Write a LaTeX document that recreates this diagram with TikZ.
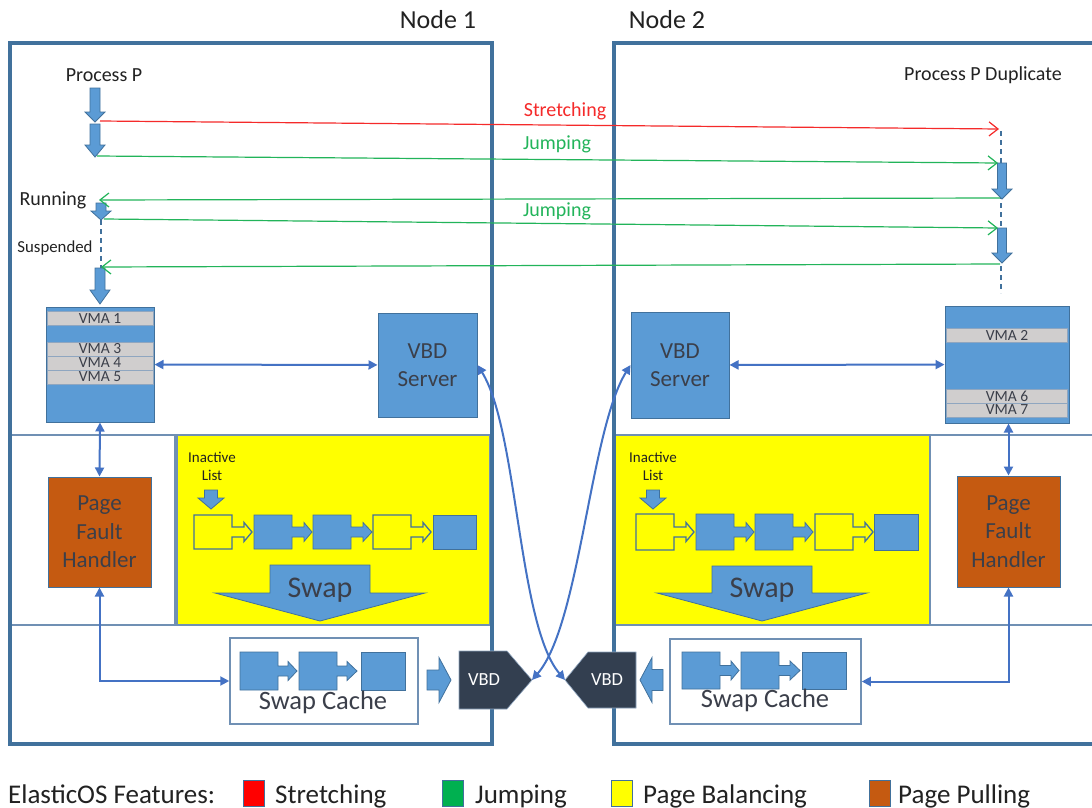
\documentclass[tikz,border=0pt]{standalone}
\usepackage{fontspec}
\setmainfont{Carlito}
\usetikzlibrary{arrows.meta}
\definecolor{framec}{HTML}{41719C}
\definecolor{thinc}{HTML}{7090B4}
\definecolor{bfill}{HTML}{5B9BD5}
\definecolor{bline}{HTML}{41719C}
\definecolor{connc}{HTML}{4472C4}
\definecolor{vbdc}{HTML}{333F50}
\definecolor{pfhc}{HTML}{C55A11}
\definecolor{vmag}{HTML}{D0CECE}
\definecolor{vmaline}{HTML}{8FA6C0}
\definecolor{txtc}{HTML}{3B3F4A}
\definecolor{blk1}{HTML}{222222}
\definecolor{redc}{HTML}{F52A2A}
\definecolor{grnc}{HTML}{22B45A}
\definecolor{lgrn}{HTML}{00B050}
\definecolor{ylw}{HTML}{FFFF00}
\newcommand\fs[2]{\fontsize{#1}{#2}\selectfont}
% vertical block arrow: cx, ytail, ybase, ytip, bodyhalf, headhalf
\newcommand\blkv[6]{%
  \filldraw[blk] (#1-#5,#2) -- (#1+#5,#2) -- (#1+#5,#3) -- (#1+#6,#3) -- (#1,#4) -- (#1-#6,#3) -- (#1-#5,#3) -- cycle;}
% horizontal block arrow: xtail, xbase, xtip, cy, bodyhalf, headhalf
\newcommand\blkh[6]{%
  \filldraw[blk] (#1,#4-#5) -- (#2,#4-#5) -- (#2,#4-#6) -- (#3,#4) -- (#2,#4+#6) -- (#2,#4+#5) -- (#1,#4+#5) -- cycle;}
% block with arrow: [style] x0, x1, xbase, xtip, top, bot, cy
\newcommand\chainb[8][blk]{%
  \filldraw[#1] (#2,#6) -- (#3,#6) -- (#3,#8-5) -- (#4,#8-5) -- (#4,#8-9.5) -- (#5,#8) -- (#4,#8+9.5) -- (#4,#8+5) -- (#3,#8+5) -- (#3,#7) -- (#2,#7) -- cycle;}
\tikzset{
  blk/.style={fill=bfill, draw=bline, line width=0.8pt},
  blko/.style={fill=ylw, draw=bline, line width=1.3pt},
  blkn/.style={fill=bfill, draw=bline, line width=1pt, inner sep=0},
  vmabar/.style={fill=vmag, draw=vmaline, line width=0.8pt, inner sep=0, minimum height=14, font=\fs{15.5}{15.5}, text=txtc},
  pfhn/.style={fill=pfhc, draw=bline, line width=1pt, inner sep=0, font=\fs{23}{28.5}, text=txtc, align=center},
  thinbox/.style={draw=thinc, line width=1.5pt},
  framebox/.style={draw=framec, line width=3.8pt},
  whitebox/.style={fill=white, draw=thinc, line width=1.5pt, inner sep=0},
  conn/.style={draw=connc, line width=2pt, >={Triangle[length=9pt,width=9pt]}, <->},
  redline/.style={draw=redc, line width=1.2pt, -{Straight Barb[length=9pt,width=14pt]}},
  grnline/.style={draw=grnc, line width=1.2pt, -{Straight Barb[length=9pt,width=14pt]}},
  dashline/.style={draw=framec, line width=1.3pt, dash pattern=on 5pt off 4pt},
  vbdshape/.style={fill=vbdc, draw=vmaline, line width=0.6pt},
  lbl/.style={inner sep=0, text=blk1},
  legsq/.style={draw=bline, line width=1pt, minimum width=21, minimum height=26, inner sep=0},
  legtxt/.style={anchor=base west, inner sep=0, font=\fs{27}{30}, text=blk1},
}
\begin{document}
\begin{tikzpicture}[x=1pt,y=-1pt]
\clip (0,0) rectangle (1092,808);
\fill[white] (0,0) rectangle (1092,808);

% inner region boxes
\draw[thinbox] (10,435) rectangle (175,625);
\filldraw[thinbox, fill=ylw] (177,435) rectangle (490,625);
\filldraw[thinbox, fill=ylw] (615,435) rectangle (930,625);
\draw[thinbox] (930,435) rectangle (1100,625);

% node frames
\draw[framebox] (10,43) rectangle (492,744);
\draw[framebox] (614,43) rectangle (1110,744);
\node[lbl, font=\fs{26}{30}] (n1lbl) at (438,20) {Node 1};
\node[lbl, font=\fs{26}{30}] (n2lbl) at (667,20) {Node 2};

% process texts
\node[lbl, font=\fs{20}{24}] (procP) at (104,75) {Process P};
\node[lbl, font=\fs{20}{24}] (procD) at (983,75) {Process P Duplicate};
\node[lbl, font=\fs{20}{24}] (run) at (53,200) {Running};
\node[lbl, font=\fs{16.8}{20}] (susp) at (55,248) {Suspended};

% dashed timelines
\draw[dashline] (101,220) -- (101,268);
\draw[dashline] (1001,131) -- (1001,293);

% process block arrows
\blkv{95}{88}{112}{122}{5}{10}
\blkv{95}{124}{145}{157}{5}{10}
\blkv{101}{203}{211}{220}{5}{10}
\blkv{100}{268}{290}{304}{5}{10}
\blkv{1002}{163}{189}{199}{4.5}{10}
\blkv{1002}{228}{253}{263}{4.5}{10}

% stretching / jumping lines
\coordinate (s0) at (100,121); \coordinate (s1) at (999,129);
\coordinate (j1a) at (97,156);  \coordinate (j1b) at (998,163);
\coordinate (j2a) at (1000,198); \coordinate (j2b) at (99,200);
\coordinate (j3a) at (104,219); \coordinate (j3b) at (998,228);
\coordinate (j4a) at (1000,264); \coordinate (j4b) at (101,267);
\draw[redline] (s0) -- (s1);
\draw[grnline] (j1a) -- (j1b);
\draw[grnline] (j2a) -- (j2b);
\draw[grnline] (j3a) -- (j3b);
\draw[grnline] (j4a) -- (j4b);
\node[lbl, text=redc, font=\fs{20}{24}] (lstr) at (565,111) {Stretching};
\node[lbl, text=grnc, font=\fs{20}{24}] (ljmp1) at (557,144) {Jumping};
\node[lbl, text=grnc, font=\fs{20}{24}] (ljmp2) at (557,211) {Jumping};

% VMA stacks
\node[blkn, minimum width=108, minimum height=115] (vmaS1) at (100,364.5) {};
\node[vmabar, minimum width=106] (vma1) at (100,318.5) {VMA 1};
\node[vmabar, minimum width=106] (vma3) at (100,349) {VMA 3};
\node[vmabar, minimum width=106] (vma4) at (100,363) {VMA 4};
\node[vmabar, minimum width=106] (vma5) at (100,377) {VMA 5};
\node[blkn, minimum width=124, minimum height=117] (vmaS2) at (1007,364.5) {};
\node[vmabar, minimum width=121] (vma2) at (1007,335) {VMA 2};
\node[vmabar, minimum width=121] (vma6) at (1007,396) {VMA 6};
\node[vmabar, minimum width=121] (vma7) at (1007,410) {VMA 7};

% VBD servers
\node[blkn, minimum width=99, minimum height=104, font=\fs{23}{28}, text=txtc, align=center] (vbds1) at (427.5,365) {VBD\\Server};
\node[blkn, minimum width=98, minimum height=106, font=\fs{23}{28}, text=txtc, align=center] (vbds2) at (680,365) {VBD\\Server};

% page fault handlers
\node[pfhn, minimum width=103, minimum height=110] (pfh1) at (99.5,532) {Page\\Fault\\Handler};
\node[pfhn, minimum width=103, minimum height=111] (pfh2) at (1008.5,531.5) {Page\\Fault\\Handler};

% inactive lists
\node[lbl, font=\fs{15}{18}, align=center] (ia1) at (212,466) {Inactive\\List};
\node[lbl, font=\fs{15}{18}, align=center] (ia2) at (653,466) {Inactive\\List};
\blkv{211}{490}{498}{509}{6.5}{13}
\blkv{653}{490}{498}{509}{6.5}{13}
\chainb[blko]{194}{232}{244}{252}{515}{549}{532}
\chainb{254}{292}{304}{312}{515}{549}{532}
\chainb{313}{351}{363}{372}{515}{549}{532}
\chainb[blko]{373}{411}{423}{431}{515}{549}{532}
\filldraw[blk] (433,515) rectangle (476,549);
\chainb[blko]{636}{674}{686}{694}{514}{550}{532}
\chainb{696}{734}{746}{754}{514}{550}{532}
\chainb{755}{793}{805}{813}{514}{550}{532}
\chainb[blko]{815}{853}{865}{873}{514}{550}{532}
\filldraw[blk] (874,514) rectangle (918,550);

% swap arrows
\filldraw[blk] (270,565) -- (370,565) -- (370,593) -- (425,593) -- (320,621) -- (215,593) -- (270,593) -- cycle;
\node[lbl, text=txtc, font=\fs{30}{30}] (sw1) at (320,590) {Swap};
\filldraw[blk] (712,566) -- (812,566) -- (812,593) -- (867,593) -- (762,621) -- (657,593) -- (712,593) -- cycle;
\node[lbl, text=txtc, font=\fs{30}{30}] (sw2) at (762,590) {Swap};

% swap caches
\node[whitebox, minimum width=188, minimum height=86] (sc1) at (324,681) {};
\chainb{240}{278}{288}{297}{652}{690}{671}
\chainb{299}{337}{347}{357}{652}{690}{671}
\filldraw[blk] (361,652) rectangle (405,690);
\node[lbl, text=txtc, font=\fs{26.5}{30}] (sct1) at (323,702) {Swap Cache};
\node[whitebox, minimum width=191, minimum height=85] (sc2) at (765.5,681.5) {};
\chainb{682}{720}{731}{739}{652}{689}{670.5}
\chainb{741}{779}{790}{800}{652}{689}{670.5}
\filldraw[blk] (802,652) rectangle (846,689);
\node[lbl, text=txtc, font=\fs{26.5}{30}] (sct2) at (765,700) {Swap Cache};

% arrows towards VBD
\blkh{427}{439}{451}{680}{10}{22.5}
\blkh{663}{652}{640}{680}{10.5}{22.5}

% VBD devices
\filldraw[vbdshape] (459,651) -- (507,651) -- (532,680) -- (507,709) -- (459,709) -- cycle;
\node[lbl, text=white, font=\fs{18.5}{20}] (vbd1) at (484,680) {VBD};
\coordinate (vbd1tip) at (532,680);
\filldraw[vbdshape] (636,652) -- (588,652) -- (565,680) -- (588,708) -- (636,708) -- cycle;
\node[lbl, text=white, font=\fs{18.5}{20}] (vbd2) at (607,680) {VBD};
\coordinate (vbd2tip) at (565,680);

% connectors
\draw[conn] (vmaS1) -- (vbds1);
\draw[conn] (vbds2) -- (vmaS2);
\draw[conn] (vmaS1.south) -- (pfh1.north);
\draw[conn] (vmaS2.south -| pfh2.north) -- (pfh2.north);
\draw[conn] (pfh1.south) |- (sc1.west);
\draw[conn] (pfh2.south) |- (sc2.east);
\draw[conn] (vbds1.east) .. controls (518,430) and (518,625) .. (vbd2tip);
\draw[conn] (vbds2.west) .. controls (590,430) and (580,625) .. (vbd1tip);

% legend
\node[legtxt] (legt) at (8,803) {ElasticOS Features:};
\node[legsq, fill=red] (lq1) at (253.5,793) {};
\node[legtxt] (legs) at (275,803) {Stretching};
\node[legsq, fill=lgrn] (lq2) at (453,793) {};
\node[legtxt] (legj) at (475,803) {Jumping};
\node[legsq, fill=ylw] (lq3) at (622,793) {};
\node[legtxt] (legb) at (643,803) {Page Balancing};
\node[legsq, fill=pfhc] (lq4) at (880,793) {};
\node[legtxt] (legp) at (898,803) {Page Pulling};
\end{tikzpicture}
\end{document}
